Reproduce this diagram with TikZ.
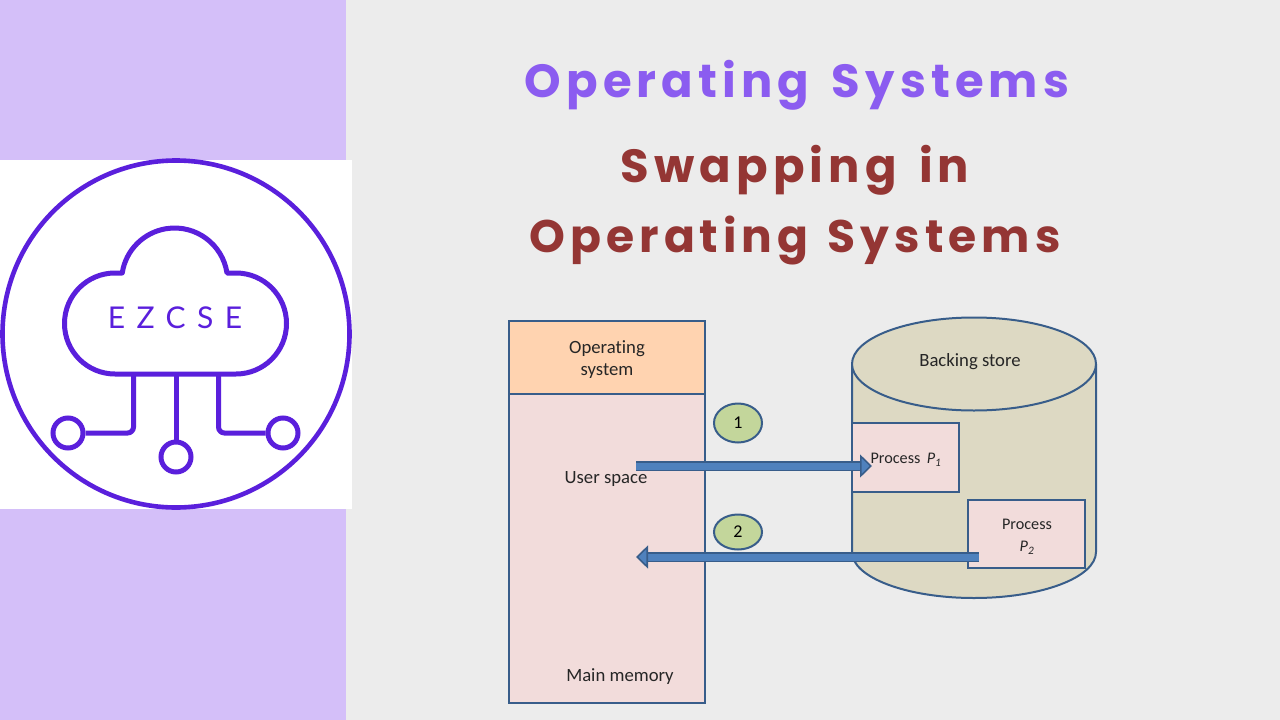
\documentclass[tikz,border=0pt]{standalone}
\usepackage{fontspec}
\setmainfont[Ligatures=NoCommon]{Carlito}
\newfontfamily\titlefont[LetterSpace=11,WordSpace=1.5]{Poppins}
\newfontfamily\logofont[LetterSpace=38]{Lato}
\usetikzlibrary{shapes,arrows,positioning,calc,arrows.meta}
\definecolor{panelpurple}{HTML}{D4BFF9}
\definecolor{slidegray}{HTML}{ECECEC}
\definecolor{logoviolet}{HTML}{5A1FDC}
\definecolor{titleviolet}{HTML}{8B5CF0}
\definecolor{titlered}{HTML}{943634}
\definecolor{edgeblue}{HTML}{385D8A}
\definecolor{arrowblue}{HTML}{4F81BD}
\definecolor{osorange}{HTML}{FFD3B0}
\definecolor{userpink}{HTML}{F2DCDB}
\definecolor{diskkhaki}{HTML}{DDD9C3}
\definecolor{stepgreen}{HTML}{C3D69B}
\tikzset{
    titletext/.style={font=\titlefont\fontsize{46.5}{56}\selectfont\bfseries, align=center},
    memlabel/.style={font=\fontsize{18.7}{22}\selectfont, align=center, text=black!85},
    membox/.style={draw=edgeblue, line width=2pt, minimum width=196pt, inner sep=0pt},
    procbox/.style={draw=edgeblue, line width=2pt, fill=userpink, inner sep=0pt},
    proclabel/.style={font=\fontsize{16.2}{22}\selectfont, text=black!85, align=center},
    stepmark/.style={ellipse, draw=edgeblue, line width=2pt, fill=stepgreen, inner sep=0pt, minimum width=48pt, font=\fontsize{18}{20}\selectfont},
    logoline/.style={draw=logoviolet, line width=5pt},
    logodot/.style={circle, draw=logoviolet, line width=5pt, fill=white, minimum size=30pt, inner sep=0pt},
    blockarrow/.style={draw=edgeblue, line width=1.6pt, double=arrowblue, double distance=7pt, -{Triangle[length=12pt,width=23pt,fill=arrowblue,line width=1.6pt]}}
}
\begin{document}
\begin{tikzpicture}[x=1pt, y=-1pt]
    \useasboundingbox (0,0) rectangle (1280,720);
    % slide background
    \fill[slidegray] (0,0) rectangle (1280,720);
    \fill[panelpurple] (0,0) rectangle (346,720);
    \fill[white] (0,160) rectangle (352,509);
    % logo
    \draw[logoline, line width=4.6pt] (176,334) circle (173.5);
    \draw[logoline, line join=round] (115,273) arc[start angle=270, end angle=90, radius=50.5] -- (236,374)
        arc[start angle=90, end angle=-90, radius=50.5] -- (227,273)
        arc[start angle=-8.7, end angle=-171.3, radius=53] -- cycle;
    \node[logodot] (dotleft) at (68,433) {};
    \node[logodot] (dotmid) at (176,457) {};
    \node[logodot] (dotright) at (283,433) {};
    \coordinate (stemleft) at (133.5,374);
    \coordinate (stemmid) at (176,374);
    \coordinate (stemright) at (218.5,374);
    \draw[logoline, rounded corners=6pt] (stemleft) |- (dotleft);
    \draw[logoline] (stemmid) -- (dotmid);
    \draw[logoline, rounded corners=6pt] (stemright) |- (dotright);
    \node[text=logoviolet, font=\logofont\fontsize{30}{32}\selectfont] (logoname) at (175,318) {EZCSE};
    % titles
    \node[titletext, text=titleviolet] (course) at (797,85) {Operating Systems};
    \node[titletext, text=titlered] (topicone) at (795,170) {Swapping in};
    \node[titletext, text=titlered, font=\titlefont\fontsize{45.6}{56}\selectfont\bfseries] (topictwo) at (795,241) {Operating\hspace{-3pt} Systems};
    % main memory
    \node[membox, fill=userpink, minimum height=309pt] (userbox) at (607,548.5) {};
    \node[membox, fill=osorange, minimum height=73pt] (osbox) at (607,357.5) {};
    \node[memlabel] (oslabel) at (607,359.5) {Operating\\system};
    \node[memlabel] (userlabel) at (606,479) {User space};
    \node[memlabel] (mainlabel) at (620,677) {Main memory};
    % backing store
    \draw[edgeblue, line width=2pt, fill=diskkhaki] (852,364) -- (852,552)
        arc[start angle=180, end angle=0, x radius=122, y radius=46] -- (1096,364);
    \node[ellipse, draw=edgeblue, line width=2pt, fill=diskkhaki, minimum width=244pt, minimum height=93pt, inner sep=0pt] (disktop) at (974,364) {};
    \node[memlabel] (disklabel) at (970,362) {Backing store};
    \node[procbox, minimum width=107pt, minimum height=69pt] (procone) at (905.5,457.5) {};
    \node[procbox, minimum width=117pt, minimum height=68pt] (proctwo) at (1026.5,534) {};
    \node[proclabel] (oneLabel) at (906,460) {Process\, \textit{P\textsubscript{1}}};
    \node[proclabel] (twoLabel) at (1027,537) {Process\\\textit{P\textsubscript{2}}};
    % swap steps
    \node[stepmark, minimum height=39pt] (stepone) at (738,423) {1};
    \node[stepmark, minimum height=35pt] (steptwo) at (738,532) {2};
    \coordinate (outstart) at (636,466);
    \coordinate (outend) at (872,466);
    \coordinate (instart) at (979,557);
    \coordinate (inend) at (636,557);
    \draw[blockarrow] (outstart) -- (outend);
    \draw[blockarrow] (instart) -- (inend);
\end{tikzpicture}
\end{document}
